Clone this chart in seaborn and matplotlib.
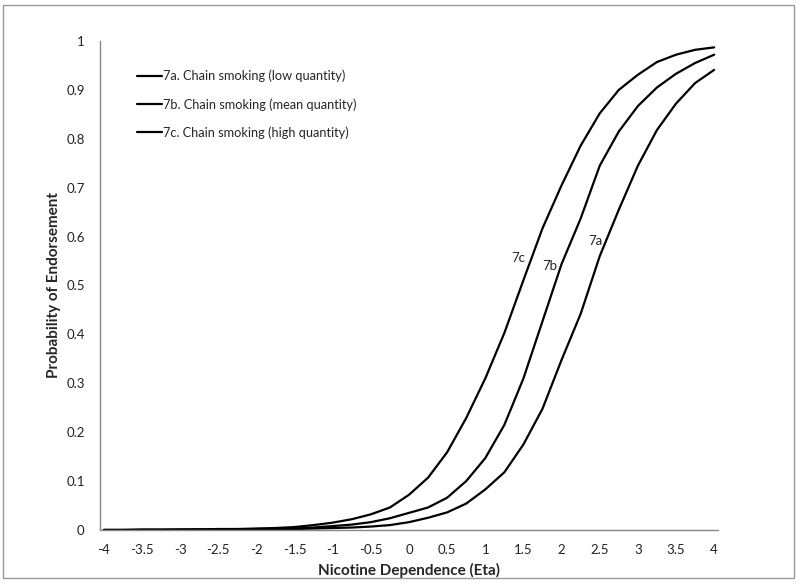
import numpy as np
import pandas as pd
import matplotlib
matplotlib.use('Agg')
import matplotlib.pyplot as plt
import seaborn as sns
from matplotlib.patches import Rectangle

# Eta grid and probability of endorsement
eta = [-4.0, -3.75, -3.5, -3.25, -3.0, -2.75, -2.5, -2.25, -2.0, -1.75, -1.5,
       -1.25, -1.0, -0.75, -0.5, -0.25, 0.0, 0.25, 0.5, 0.75, 1.0, 1.25, 1.5,
       1.75, 2.0, 2.25, 2.5, 2.75, 3.0, 3.25, 3.5, 3.75, 4.0]

p_low = [0.000, 0.000, 0.000, 0.000, 0.000, 0.001, 0.001, 0.001, 0.001, 0.002, 0.002,
         0.003, 0.004, 0.005, 0.007, 0.010, 0.016, 0.025, 0.036, 0.054, 0.083, 0.118, 0.175,
         0.248, 0.348, 0.442, 0.560, 0.655, 0.745, 0.818, 0.872, 0.914, 0.941]

p_mean = [0.000, 0.000, 0.000, 0.000, 0.001, 0.001, 0.001, 0.001, 0.002, 0.002, 0.003,
          0.005, 0.008, 0.011, 0.016, 0.024, 0.035, 0.046, 0.066, 0.100, 0.147, 0.215, 0.310,
          0.427, 0.544, 0.637, 0.745, 0.815, 0.867, 0.905, 0.933, 0.955, 0.972]

p_high = [0.000, 0.000, 0.001, 0.001, 0.001, 0.001, 0.002, 0.002, 0.003, 0.004, 0.006,
          0.010, 0.015, 0.022, 0.032, 0.046, 0.072, 0.107, 0.159, 0.229, 0.310, 0.403, 0.511,
          0.617, 0.705, 0.786, 0.852, 0.900, 0.931, 0.957, 0.972, 0.982, 0.987]

series_names = ['7a. Chain smoking (low quantity)',
                '7b. Chain smoking (mean quantity)',
                '7c. Chain smoking (high quantity)']
curve_tags = ['7a', '7b', '7c']
tag_x = [2.44, 1.84, 1.43]
tag_y = [0.591, 0.540, 0.556]

sns.set_style('white')
plt.rcParams['font.family'] = ['Lato', 'DejaVu Sans']

fig = plt.figure(figsize=(8, 5.84), dpi=100)
ax = fig.add_axes([0.125, 0.0925, 0.7725, 0.8373])

for name, vals in zip(series_names, [p_low, p_mean, p_high]):
    d = pd.DataFrame({'eta': eta, 'p': vals})
    sns.lineplot(data=d, x='eta', y='p', color='black', lw=1.6, label=name, ax=ax)

for tag, tx, ty in zip(curve_tags, tag_x, tag_y):
    ax.text(tx, ty, tag, fontsize=9.5, ha='center', va='center')

ax.set_xlim(-4.05, 4.05)
ax.set_ylim(0, 1)
ax.set_xticks(np.arange(-4, 4.01, 0.5))
ax.set_xticklabels([f'{v:g}' for v in np.arange(-4, 4.01, 0.5)])
ax.set_xticks(np.arange(-4, 4.01, 0.1), minor=True)
ax.set_yticks(np.arange(0, 1.01, 0.1))
ax.set_yticklabels([f'{v:g}' for v in np.round(np.arange(0, 1.01, 0.1), 1)])
ax.tick_params(axis='both', which='major', labelsize=9.5, length=4, width=0.8,
               color='#888888', labelcolor='#222222', direction='out')
ax.tick_params(axis='x', which='minor', length=4, width=0.8, color='#888888', direction='out')
ax.tick_params(axis='x', pad=6)
ax.tick_params(axis='y', pad=7)

sns.despine(ax=ax)
for s in ['left', 'bottom']:
    ax.spines[s].set_color('#888888')
    ax.spines[s].set_linewidth(1.0)

ax.set_xlabel('Nicotine Dependence (Eta)', fontsize=11, fontweight='bold', labelpad=5)
ax.set_ylabel('Probability of Endorsement', fontsize=11, fontweight='bold', labelpad=4)

leg = ax.legend(loc='upper left', bbox_to_anchor=(0.06, 0.941), frameon=False,
                fontsize=9.2, handlelength=1.95, handletextpad=0.05, labelspacing=1.23,
                borderpad=0, borderaxespad=0)

fig.patches.append(Rectangle((3 / 800, 1 - 578 / 584), 791 / 800, 573 / 584,
                             transform=fig.transFigure, fill=False,
                             edgecolor='#999999', lw=1.0))

fig.savefig('out.png', dpi=100)
